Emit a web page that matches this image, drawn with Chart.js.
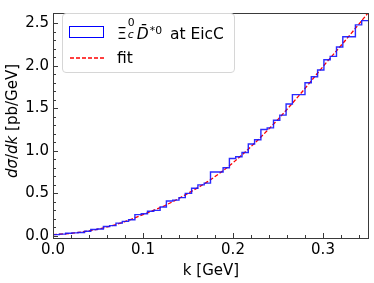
<!DOCTYPE html>
<html>
<head>
<meta charset="utf-8">
<script src="https://cdn.jsdelivr.net/npm/chart.js@4.4.1/dist/chart.umd.min.js"></script>
<style>
  html, body { margin: 0; padding: 0; background: #fff; }
  #wrap { position: relative; width: 374px; height: 283px; font-family: "DejaVu Sans", sans-serif; color: #000; }
  #c { position: absolute; left: 0; top: 0; }
  .ylab { position: absolute; left: 12px; top: 121px; transform: translate(-50%, -50%) rotate(-90deg); font-size: 15px; white-space: nowrap; }
  .xlab { position: absolute; left: 211px; top: 270px; transform: translate(-50%, -50%); font-size: 15px; white-space: nowrap; }
  .legend { position: absolute; left: 62px; top: 13px; width: 171px; height: 58px; border: 1px solid #d6d6d6; border-radius: 4px; background: rgba(255,255,255,0.85); font-size: 15.5px; }
  .legend .row { position: absolute; left: 0; height: 20px; white-space: nowrap; }
  .legend .sw { position: absolute; left: 6px; }
  .legend .txt { position: absolute; left: 54px; top: 0; line-height: 20px; }
  .ss { position: relative; display: inline-block; width: 10px; height: 1em; }
  .ss .up { position: absolute; left: 1px; top: -0.45em; font-size: 0.7em; line-height: 1; }
  .ss .dn { position: absolute; left: 1px; top: 0.62em; font-size: 0.7em; line-height: 1; }
  .sp { position: relative; top: -0.45em; font-size: 0.7em; margin-left: 1px; margin-right: 3px; }
</style>
</head>
<body>
<div id="wrap">
  <canvas id="c" width="374" height="283"></canvas>
  <div class="ylab"><i>dσ</i>/<i>dk</i> [pb/GeV]</div>
  <div class="xlab">k [GeV]</div>
  <div class="legend">
    <div class="row" style="top:9px">
      <div class="sw" style="top:3px;width:33px;height:10px;border:1px solid #0000ff"></div>
      <div class="txt">Ξ<span class="ss"><span class="up">0</span><i class="dn">c</i></span><i>D̄</i><span class="sp">*0</span> at EicC</div>
    </div>
    <div class="row" style="top:34px">
      <svg class="sw" style="top:0" width="36" height="20"><line x1="1" y1="10" x2="35" y2="10" stroke="red" stroke-width="1.3" stroke-dasharray="4 2"/></svg>
      <div class="txt">fit</div>
    </div>
  </div>
</div>
<script>
/* dσ/dk histogram of Ξc0 D̄*0 at EicC + fit curve */
var BIN_WIDTH = 0.007;
var histValues = [
  0.015, 0.02, 0.03, 0.035, 0.04, 0.055, 0.075, 0.08, 0.11, 0.12,
  0.15, 0.17, 0.19, 0.25, 0.26, 0.29, 0.30, 0.34, 0.41, 0.42,
  0.45, 0.50, 0.56, 0.60, 0.62, 0.75, 0.75, 0.80, 0.91, 0.93,
  0.98, 1.08, 1.13, 1.25, 1.27, 1.36, 1.42, 1.55, 1.66, 1.66,
  1.80, 1.87, 1.95, 2.07, 2.11, 2.22, 2.34, 2.34, 2.48, 2.53
];
var fitK = [0, 0.025, 0.05, 0.075, 0.1, 0.125, 0.15, 0.175, 0.2, 0.225, 0.25, 0.275, 0.3, 0.325, 0.35];
var fitValues = [0.015, 0.035, 0.08, 0.15, 0.25, 0.36, 0.50, 0.66, 0.86, 1.10, 1.37, 1.67, 1.99, 2.30, 2.62];
var xTicks = [0, 0.1, 0.2, 0.3];
var yTicks = [0, 0.5, 1.0, 1.5, 2.0, 2.5];

var X_MIN = 0, X_MAX = 0.35, Y_MIN = -0.025, Y_MAX = 2.62;

function histPoints() {
  var pts = [{ x: 0, y: 0 }];
  histValues.forEach(function (v, i) { pts.push({ x: i * BIN_WIDTH, y: v }); });
  var last = histValues[histValues.length - 1];
  pts.push({ x: histValues.length * BIN_WIDTH, y: last });
  pts.push({ x: histValues.length * BIN_WIDTH, y: 0 });
  return pts;
}

// frame + inward ticks like matplotlib
var framePlugin = {
  id: 'frame',
  afterDraw: function (chart) {
    var ctx = chart.ctx, a = chart.chartArea;
    var xs = chart.scales.x, ys = chart.scales.y;
    ctx.save();
    ctx.strokeStyle = '#3a3a3a';
    ctx.lineWidth = 1;
    ctx.strokeRect(Math.round(a.left) + 0.5, Math.round(a.top) + 0.5, Math.round(a.right - a.left), Math.round(a.bottom - a.top));
    function tick(px, len, isX) {
      ctx.beginPath();
      if (isX) { ctx.moveTo(Math.round(px) + 0.5, a.bottom); ctx.lineTo(Math.round(px) + 0.5, a.bottom - len); }
      else { ctx.moveTo(a.left, Math.round(px) + 0.5); ctx.lineTo(a.left + len, Math.round(px) + 0.5); }
      ctx.stroke();
    }
    var i;
    for (i = 1; i < 18; i++) { if (i % 5) tick(xs.getPixelForValue(i * 0.02), 3, true); }
    for (i = 1; i < 26; i++) { if (i % 5) tick(ys.getPixelForValue(i * 0.1), 3, false); }
    xTicks.forEach(function (v) { tick(xs.getPixelForValue(v), 5, true); });
    yTicks.forEach(function (v) { tick(ys.getPixelForValue(v), 5, false); });
    ctx.restore();
  }
};

new Chart(document.getElementById('c'), {
  type: 'line',
  data: {
    datasets: [
      {
        label: 'hist',
        data: histPoints(),
        stepped: true,
        borderColor: 'rgba(20,20,255,0.9)',
        borderWidth: 1.4,
        pointRadius: 0,
        fill: false
      },
      {
        label: 'fit',
        data: fitK.map(function (k, i) { return { x: k, y: fitValues[i] }; }),
        borderColor: '#ff0000',
        borderWidth: 1.3,
        borderDash: [4, 2],
        cubicInterpolationMode: 'monotone',
        pointRadius: 0,
        fill: false
      }
    ]
  },
  options: {
    responsive: false,
    animation: false,
    devicePixelRatio: 1,
    layout: { padding: { left: 0, top: 4, right: 6, bottom: 0 } },
    plugins: { legend: { display: false }, tooltip: { enabled: false } },
    scales: {
      x: {
        type: 'linear', min: X_MIN, max: X_MAX,
        grid: { display: false, drawTicks: false }, border: { display: false },
        afterBuildTicks: function (s) { s.ticks = xTicks.map(function (v) { return { value: v }; }); },
        afterFit: function (s) { s.height = 45; },
        ticks: { padding: 3, color: '#000', font: { family: 'DejaVu Sans', size: 15 }, maxRotation: 0,
          callback: function (v) { return v.toFixed(1); } }
      },
      y: {
        type: 'linear', min: Y_MIN, max: Y_MAX,
        grid: { display: false, drawTicks: false }, border: { display: false },
        afterBuildTicks: function (s) { s.ticks = yTicks.map(function (v) { return { value: v }; }); },
        afterFit: function (s) { s.width = 53; },
        ticks: { padding: 4, color: '#000', font: { family: 'DejaVu Sans', size: 15 },
          callback: function (v) { return v.toFixed(1); } }
      }
    }
  },
  plugins: [framePlugin]
});
</script>
</body>
</html>
